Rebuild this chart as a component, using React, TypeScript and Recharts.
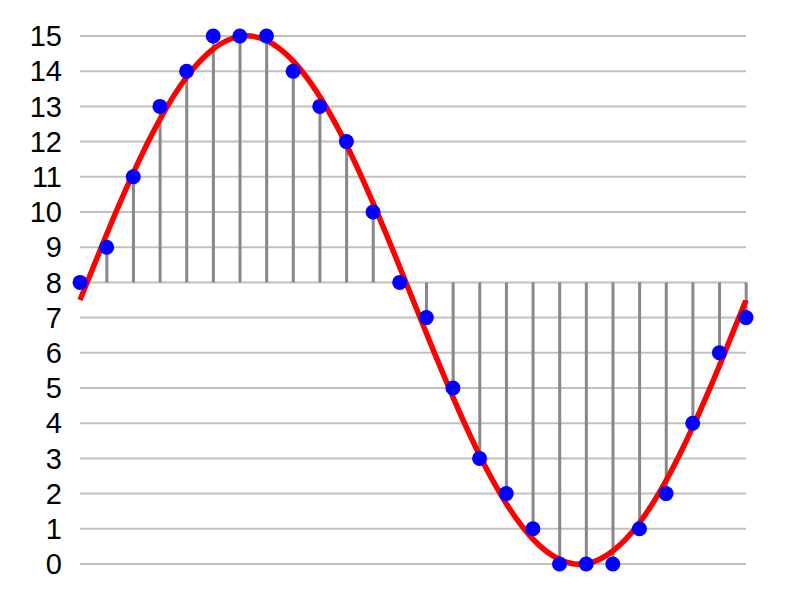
import React from 'react';
import { ComposedChart, Line, Bar, XAxis, YAxis, CartesianGrid } from 'recharts';

const sampleIndex = [0, 1, 2, 3, 4, 5, 6, 7, 8, 9, 10, 11, 12, 13, 14, 15, 16, 17, 18, 19, 20, 21, 22, 23, 24, 25];
const quantized = [8, 9, 11, 13, 14, 15, 15, 15, 14, 13, 12, 10, 8, 7, 5, 3, 2, 1, 0, 0, 0, 1, 2, 4, 6, 7];
const analog = [7.5, 9.37, 11.11, 12.63, 13.83, 14.63, 14.99, 14.87, 14.29, 13.28, 11.91, 10.26, 8.44, 6.56, 4.74, 3.09, 1.72, 0.71, 0.13, 0.01, 0.37, 1.17, 2.37, 3.89, 5.63, 7.5];
const yTicks = [0, 1, 2, 3, 4, 5, 6, 7, 8, 9, 10, 11, 12, 13, 14, 15];
const baseline = 8;

const data = sampleIndex.map((t, i) => ({
  t,
  q: quantized[i],
  a: analog[i],
  stem: [baseline, quantized[i]],
}));

export default function App() {
  return (
    <ComposedChart width={800} height={600} data={data} margin={{ top: 28, right: 62, bottom: 44, left: 0 }}>
      <CartesianGrid vertical={false} stroke="#c0c0c0" strokeWidth={2} />
      <XAxis type="number" dataKey="t" domain={[0, 25]} hide />
      <YAxis
        domain={[0, 15]}
        ticks={yTicks}
        interval={0}
        width={72}
        axisLine={false}
        tickLine={false}
        tickSize={0}
        tickMargin={18}
        tick={{ fill: '#000', fontSize: 29, fontFamily: 'Liberation Sans, Arial, sans-serif' }}
      />
      <Bar dataKey="stem" barSize={3} fill="#888888" isAnimationActive={false} />
      <Line type="natural" dataKey="a" stroke="#ff0000" strokeWidth={5.5} dot={false} isAnimationActive={false} />
      <Line dataKey="q" stroke="none" dot={{ r: 7.5, fill: '#0000ff', stroke: 'none' }} activeDot={false} isAnimationActive={false} />
    </ComposedChart>
  );
}
